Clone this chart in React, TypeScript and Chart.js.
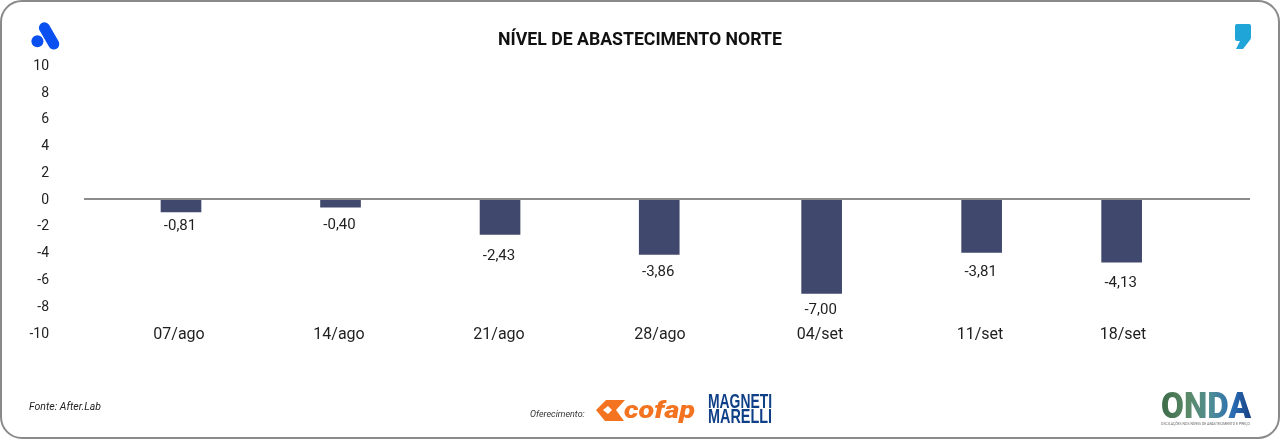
import React, { useEffect, useRef } from "react";
import { Chart, registerables } from "chart.js";

Chart.register(...registerables);

const titleText = "NÍVEL DE ABASTECIMENTO NORTE";
const categories = ["07/ago", "14/ago", "21/ago", "28/ago", "04/set", "11/set", "18/set"];
// Horizontal place of each period on the date axis, in weeks from the first one
const barWeeks = [0, 0.997, 1.994, 2.989, 4.004, 5.004, 5.879];
const tickWeeks = [-0.0125, 0.9875, 1.9875, 2.9938, 3.9938, 4.9938, 5.8875];
// Bar lengths as drawn in the picture
const barValues = [-0.94, -0.6, -2.63, -4.13, -7.04, -3.98, -4.7];
// Printed labels
const valueLabels = ["-0,81", "-0,40", "-2,43", "-3,86", "-7,00", "-3,81", "-4,13"];
const labelGaps = [14.5, 18.5, 21.5, 17.5, 16.5, 19.5, 21.5];
const yTicks = [10, 8, 6, 4, 2, 0, -2, -4, -6, -8, -10];

const FONT = "Roboto, sans-serif";
const INK = "#1f1f1f";

const valueLabelPlugin = {
  id: "valueLabelPlugin",
  afterDatasetsDraw(chart: any) {
    const { ctx } = chart;
    const meta = chart.getDatasetMeta(0);
    ctx.save();
    ctx.font = `15px ${FONT}`;
    ctx.fillStyle = INK;
    ctx.textAlign = "center";
    ctx.textBaseline = "middle";
    meta.data.forEach((bar: any, i: number) => {
      ctx.fillText(valueLabels[i], bar.x - 1, bar.y + labelGaps[i]);
    });
    ctx.restore();
  },
};

function Logos() {
  return (
    <svg width={1280} height={440} style={{ position: "absolute", left: 0, top: 0, pointerEvents: "none" }}>
      <defs>
        <linearGradient id="ondaFill" x1="0" x2="1" y1="0" y2="0">
          <stop offset="0" stopColor="#3c6a48" />
          <stop offset="0.3" stopColor="#5b8a68" />
          <stop offset="0.55" stopColor="#4f8d94" />
          <stop offset="0.8" stopColor="#2a6cb4" />
          <stop offset="1" stopColor="#173f80" />
        </linearGradient>
      </defs>
      <circle cx={37.4} cy={41.3} r={6} fill="#0a50f0" />
      <line x1={44.4} y1={27.8} x2={53.8} y2={44} stroke="#0a50f0" strokeWidth={11} strokeLinecap="round" />
      <path
        d="M1237 24 H1249 Q1251 24 1251 26 V37 Q1251 39 1250 40 L1243 49 H1236 L1240 41 H1237 Q1235 41 1235 39 V26 Q1235 24 1237 24 Z"
        fill="#1fa5d8"
      />
      <path d="M606 400 H625 L616 410 L624 421 H605 L596 410 Z" fill="#f47320" />
      <path d="M603 410 L608 406 L612 410 L608 414 Z" fill="#fff" />
      <text
        x={624}
        y={418}
        fontFamily={FONT}
        fontWeight={900}
        fontStyle="italic"
        fontSize={24}
        fill="#f47320"
        textLength={71}
        lengthAdjust="spacingAndGlyphs"
      >
        cofap
      </text>
      <text
        x={708}
        y={408}
        fontFamily="'Liberation Sans', sans-serif"
        fontWeight={700}
        fontSize={20}
        fill="#0f3f86"
        textLength={64}
        lengthAdjust="spacingAndGlyphs"
      >
        MAGNETI
      </text>
      <text
        x={708}
        y={423}
        fontFamily="'Liberation Sans', sans-serif"
        fontWeight={700}
        fontSize={20}
        fill="#0f3f86"
        textLength={64}
        lengthAdjust="spacingAndGlyphs"
      >
        MARELLI
      </text>
      <text
        x={1161}
        y={418}
        fontFamily={FONT}
        fontWeight={900}
        fontSize={36}
        fill="url(#ondaFill)"
        textLength={90}
        lengthAdjust="spacingAndGlyphs"
      >
        ONDA
      </text>
      <text
        x={1161}
        y={425}
        fontFamily={FONT}
        fontSize={4}
        fill="#666"
        textLength={89}
        lengthAdjust="spacingAndGlyphs"
      >
        OSCILAÇÕES NOS NÍVEIS DE ABASTECIMENTO E PREÇO
      </text>
    </svg>
  );
}

export default function App() {
  const ref = useRef<HTMLCanvasElement | null>(null);

  useEffect(() => {
    if (!ref.current) return;
    const chart = new Chart(ref.current, {
      type: "bar",
      data: {
        datasets: [
          {
            data: barWeeks.map((x, i) => ({ x, y: barValues[i] })),
            backgroundColor: "#40496d",
            barThickness: 40,
          },
        ],
      } as any,
      plugins: [valueLabelPlugin],
      options: {
        responsive: false,
        animation: false,
        layout: { padding: { left: 0, right: 0, top: 0, bottom: 107 } },
        plugins: {
          legend: { display: false },
          tooltip: { enabled: false },
          title: {
            display: true,
            text: titleText,
            color: "#111",
            font: { family: FONT, size: 17.7, weight: "bold", lineHeight: 1.2 },
            padding: { top: 30, bottom: 14.2 },
          },
        },
        scales: {
          x: {
            type: "linear",
            position: { y: -10 },
            offset: false,
            min: -0.60625,
            max: 6.68125,
            grid: { display: false, drawTicks: false },
            border: { display: false },
            afterBuildTicks: (s: any) => {
              s.ticks = tickWeeks.map((value) => ({ value }));
            },
            ticks: {
              autoSkip: false,
              maxRotation: 0,
              minRotation: 0,
              padding: -8,
              color: INK,
              font: { family: FONT, size: 16 },
              callback: (_v: any, i: number) => categories[i],
            },
          },
          y: {
            min: -10,
            max: 10,
            afterFit: (s: any) => {
              s.width = 84;
            },
            afterBuildTicks: (s: any) => {
              s.ticks = yTicks.map((value) => ({ value }));
            },
            border: { display: false },
            grid: {
              drawTicks: false,
              lineWidth: 2,
              color: (c: any) => (c.tick && c.tick.value === 0 ? "#8c8c8c" : "rgba(0,0,0,0)"),
            },
            ticks: {
              padding: 35,
              labelOffset: 1,
              color: INK,
              font: { family: FONT, size: 14 },
              callback: (v: any) => String(v),
            },
          },
          gutter: {
            position: "right",
            grid: { display: false, drawTicks: false },
            border: { display: false },
            ticks: { display: false },
            afterFit: (s: any) => {
              s.width = 30;
            },
          },
        },
      } as any,
    });
    return () => chart.destroy();
  }, []);

  return (
    <div
      style={{
        position: "absolute",
        left: 0,
        top: 0,
        width: 1280,
        height: 440,
        background: "#fff",
        overflow: "hidden",
      }}
    >
      <canvas ref={ref} width={1280} height={440} style={{ display: "block" }} />
      <Logos />
      <div
        style={{
          position: "absolute",
          left: 0,
          top: 0,
          width: 1280,
          height: 439,
          boxSizing: "border-box",
          border: "2px solid #8a8a8a",
          borderRadius: 22,
          pointerEvents: "none",
        }}
      />
      <span
        style={{
          position: "absolute",
          left: 29,
          top: 400,
          font: `italic 10.5px/14px ${FONT}`,
          color: "#222",
        }}
      >
        Fonte: After.Lab
      </span>
      <span
        style={{
          position: "absolute",
          left: 530,
          top: 408,
          font: `italic 9px/12px ${FONT}`,
          color: "#333",
        }}
      >
        Oferecimento:
      </span>
    </div>
  );
}
